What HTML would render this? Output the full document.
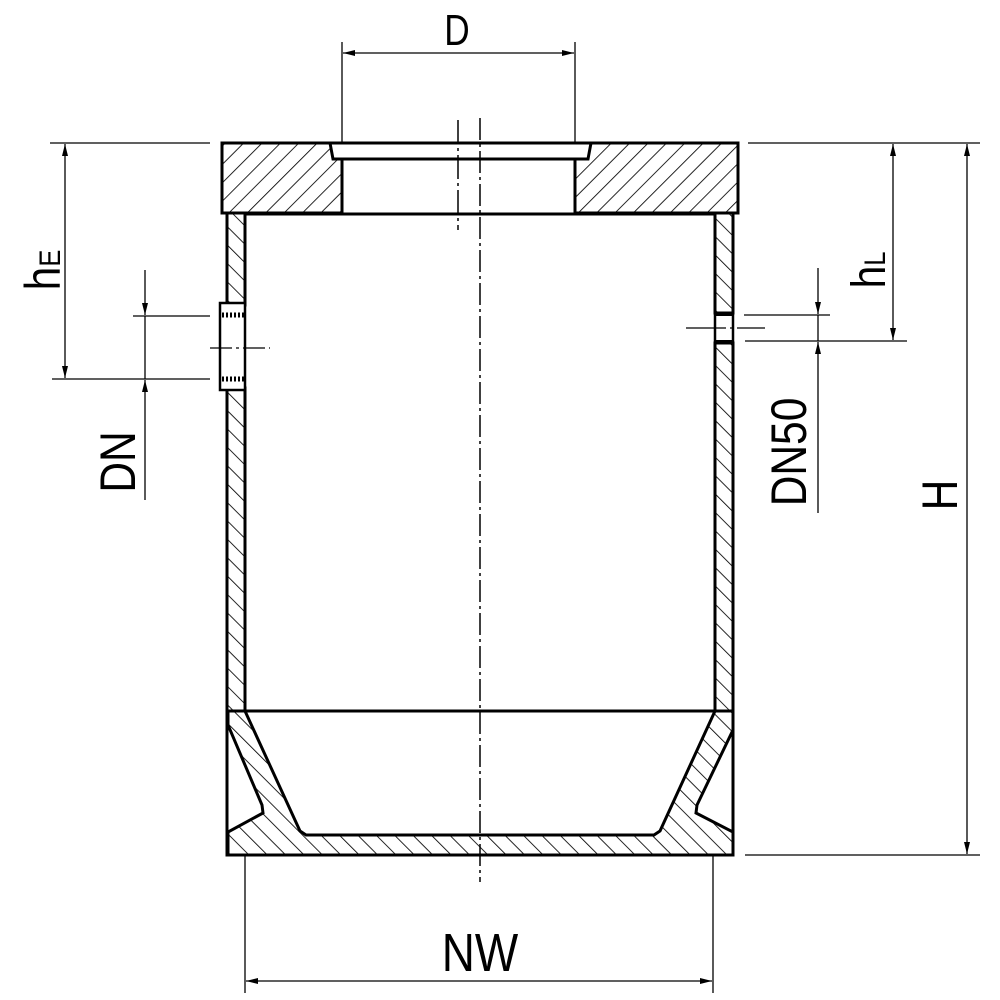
<!DOCTYPE html>
<html><head><style>html,body{margin:0;padding:0;background:#fff}svg{display:block}</style></head>
<body>
<svg width="1000" height="1000" viewBox="0 0 1000 1000" xmlns="http://www.w3.org/2000/svg">
<defs>
<pattern id="hf" width="13" height="13" patternUnits="userSpaceOnUse" patternTransform="rotate(45)"><line x1="0" y1="0" x2="0" y2="13" stroke="#000" stroke-width="1.7"/></pattern>
<pattern id="hb" width="13" height="13" patternUnits="userSpaceOnUse" patternTransform="rotate(-45)"><line x1="0" y1="0" x2="0" y2="13" stroke="#000" stroke-width="1.7"/></pattern>
<marker id="a" viewBox="0 0 12 6" refX="12" refY="3" markerWidth="12" markerHeight="6" orient="auto" markerUnits="userSpaceOnUse"><path d="M0,0L12,3L0,6z" fill="#000"/></marker>
</defs>
<g stroke="#000" fill="none">
<path d="M222,143H330L333,159H342V213H222Z" fill="url(#hf)" stroke-width="3"/>
<path d="M591,143H738V213H575V159H588Z" fill="url(#hf)" stroke-width="3"/>
<line x1="330" y1="143" x2="591" y2="143" stroke-width="3"/>
<line x1="333" y1="159" x2="588" y2="159" stroke-width="3"/>
<line x1="245" y1="214" x2="715" y2="214" stroke-width="3"/>
<rect x="227" y="213" width="18" height="92" fill="url(#hb)" stroke-width="3"/>
<rect x="227" y="388" width="18" height="323" fill="url(#hb)" stroke-width="3"/>
<rect x="715" y="213" width="18" height="100" fill="url(#hb)" stroke-width="3"/>
<rect x="715" y="343" width="18" height="368" fill="url(#hb)" stroke-width="3"/>
<rect x="220" y="303" width="25" height="87" fill="#fff" stroke-width="2.5"/>
<line x1="222" y1="315" x2="245" y2="315" stroke-width="5" stroke-dasharray="2,2"/>
<line x1="222" y1="379" x2="245" y2="379" stroke-width="5" stroke-dasharray="2,2"/>
<rect x="715" y="313" width="18" height="30" fill="#fff" stroke-width="2.5"/>
<line x1="715" y1="314" x2="733" y2="314" stroke-width="4"/>
<line x1="715" y1="342" x2="733" y2="342" stroke-width="4"/>
<rect x="227" y="711" width="506" height="144" stroke-width="3"/>
<path d="M228,711H245L300,831L306,835H654L660,831L715,711H733V730L697,805L696,813L733,832V855H228V832L263,813L262,805L228,725Z" fill="url(#hb)" stroke-width="3"/>
<line x1="227" y1="711" x2="733" y2="711" stroke-width="3"/>
<line x1="480" y1="118" x2="480" y2="882" stroke-width="1.5" stroke-dasharray="22,4,3,4"/>
<line x1="458" y1="120" x2="458" y2="230" stroke-width="1.5" stroke-dasharray="24,4,3,4"/>
<line x1="210" y1="348" x2="270" y2="348" stroke-width="1.2" stroke-dasharray="22,4,3,4"/>
<line x1="686" y1="328" x2="765" y2="328" stroke-width="1.2" stroke-dasharray="40,4,3,4"/>
<g stroke-width="1.3">
<line x1="342" y1="42" x2="342" y2="143"/><line x1="575" y1="42" x2="575" y2="143"/>
<line x1="460" y1="53" x2="343" y2="53" marker-end="url(#a)"/><line x1="460" y1="53" x2="574" y2="53" marker-end="url(#a)"/>
<line x1="245" y1="855" x2="245" y2="993"/><line x1="713" y1="855" x2="713" y2="993"/>
<line x1="480" y1="981" x2="246" y2="981" marker-end="url(#a)"/><line x1="480" y1="981" x2="712" y2="981" marker-end="url(#a)"/>
<line x1="50" y1="143" x2="210" y2="143"/>
<line x1="52" y1="379" x2="210" y2="379"/>
<line x1="133" y1="316" x2="210" y2="316"/>
<line x1="65" y1="260" x2="65" y2="144" marker-end="url(#a)"/>
<line x1="65" y1="260" x2="65" y2="378" marker-end="url(#a)"/>
<line x1="145" y1="270" x2="145" y2="315" marker-end="url(#a)"/>
<line x1="145" y1="500" x2="145" y2="380" marker-end="url(#a)"/>
<line x1="145" y1="316" x2="145" y2="379"/>
<line x1="748" y1="143" x2="980" y2="143"/>
<line x1="745" y1="341" x2="907" y2="341"/>
<line x1="744" y1="315" x2="830" y2="315"/>
<line x1="745" y1="855" x2="980" y2="855"/>
<line x1="893" y1="240" x2="893" y2="144" marker-end="url(#a)"/>
<line x1="893" y1="240" x2="893" y2="340" marker-end="url(#a)"/>
<line x1="967" y1="500" x2="967" y2="144" marker-end="url(#a)"/>
<line x1="967" y1="500" x2="967" y2="854" marker-end="url(#a)"/>
<line x1="818" y1="268" x2="818" y2="314" marker-end="url(#a)"/>
<line x1="818" y1="513" x2="818" y2="342" marker-end="url(#a)"/>
<line x1="818" y1="315" x2="818" y2="341"/>
</g>
</g>
<g font-family="Liberation Sans, sans-serif" fill="#000">
<text transform="translate(457,45) scale(0.8,1)" font-size="44" text-anchor="middle">D</text>
<text transform="translate(480,971) scale(0.85,1)" font-size="54" text-anchor="middle">NW</text>
<text transform="translate(60,270) rotate(-90) scale(0.85,1)" font-size="50" text-anchor="middle">h<tspan font-size="30">E</tspan></text>
<text transform="translate(885,270) rotate(-90) scale(0.85,1)" font-size="48" text-anchor="middle">h<tspan font-size="30">L</tspan></text>
<text transform="translate(135,462) rotate(-90) scale(0.85,1)" font-size="50" text-anchor="middle">DN</text>
<text transform="translate(806,452) rotate(-90) scale(0.85,1)" font-size="50" text-anchor="middle">DN50</text>
<text transform="translate(957,495) rotate(-90) scale(0.85,1)" font-size="50" text-anchor="middle">H</text>
</g>
</svg>
</body></html>
